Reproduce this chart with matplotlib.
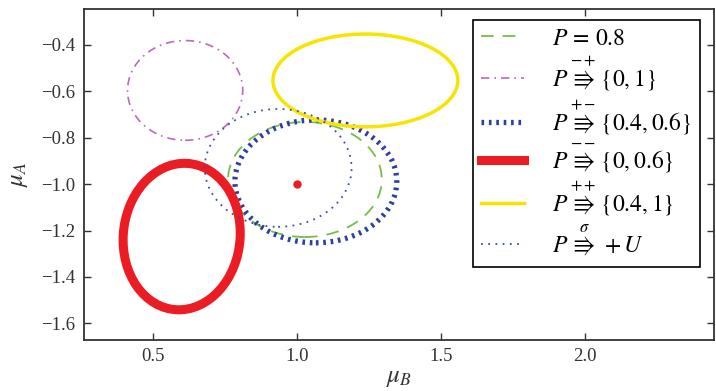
import matplotlib
matplotlib.use('Agg')
import matplotlib.pyplot as plt
from matplotlib.patches import Ellipse
from matplotlib.lines import Line2D

plt.rcParams['font.family'] = ['Liberation Serif', 'DejaVu Serif']
plt.rcParams['mathtext.fontset'] = 'stix'

# ellipse data: centre (mu_B, mu_A), full width, full height, angle
labels = [r'$P\,=\,0.8$',
          r'$P\,\overset{-+}{\Rrightarrow}\,\{0,1\}$',
          r'$P\,\overset{+-}{\Rrightarrow}\,\{0.4,0.6\}$',
          r'$P\,\overset{--}{\Rrightarrow}\,\{0,0.6\}$',
          r'$P\,\overset{++}{\Rrightarrow}\,\{0.4,1\}$',
          r'$P\,\overset{\sigma}{\Rrightarrow}\,+U$']
centre_b = [1.028, 0.612, 1.066, 0.600, 1.238, 0.935]
centre_a = [-0.980, -0.596, -0.988, -1.226, -0.553, -0.930]
widths = [0.534, 0.400, 0.562, 0.406, 0.642, 0.510]
heights = [0.496, 0.430, 0.530, 0.632, 0.400, 0.508]
angles = [0, 0, 0, -3, 0, 0]

colors = ['#72bf4a', '#b96bb3', '#2e3f9e', '#ec1c24', '#f7e400', '#3a4cae']
styles = [(0, (7, 5)), (0, (5, 3, 1, 3)), (0, (0.5, 0.9)), '-', '-', (0, (1, 3))]
lws = [1.3, 1.2, 3.8, 6.5, 2.5, 1.3]

point_b = [1.0]
point_a = [-1.0]

fig = plt.figure(figsize=(7.16, 3.91), dpi=100)
ax = fig.add_axes([0.117, 0.1304, 0.880, 0.8466])

handles = []
for i in range(len(labels)):
    e = Ellipse((centre_b[i], centre_a[i]), widths[i], heights[i], angle=angles[i],
                fill=False, edgecolor=colors[i], linestyle=styles[i], linewidth=lws[i])
    ax.add_patch(e)
    handles.append(Line2D([], [], color=colors[i], linestyle=styles[i], linewidth=lws[i]))

ax.plot(point_b, point_a, 'o', color='#ec1c24', markersize=5)

ax.set_xlim(0.26, 2.448)
ax.set_ylim(-1.672, -0.245)
ax.set_xticks([0.5, 1.0, 1.5, 2.0])
ax.set_yticks([-1.6, -1.4, -1.2, -1.0, -0.8, -0.6, -0.4])
ax.tick_params(direction='in', top=True, right=True, length=5, width=1,
               labelsize=13.5, colors='#333333', pad=6)
for s in ax.spines.values():
    s.set_color('#333333')
    s.set_linewidth(1.3)

ax.set_xlabel(r'$\mu_B$', fontsize=18, labelpad=1, color='#333333')
ax.set_ylabel(r'$\mu_A$', fontsize=18, labelpad=8, color='#333333')

leg = ax.legend(handles, labels, loc='upper right', fontsize=17, fancybox=False,
                edgecolor='black', framealpha=1, handlelength=1.8,
                handletextpad=1.2, labelspacing=0.2, borderpad=0.35,
                bbox_to_anchor=(0.978, 0.967), borderaxespad=0)
leg.get_frame().set_linewidth(1.2)

fig.savefig('out.png', dpi=100)
